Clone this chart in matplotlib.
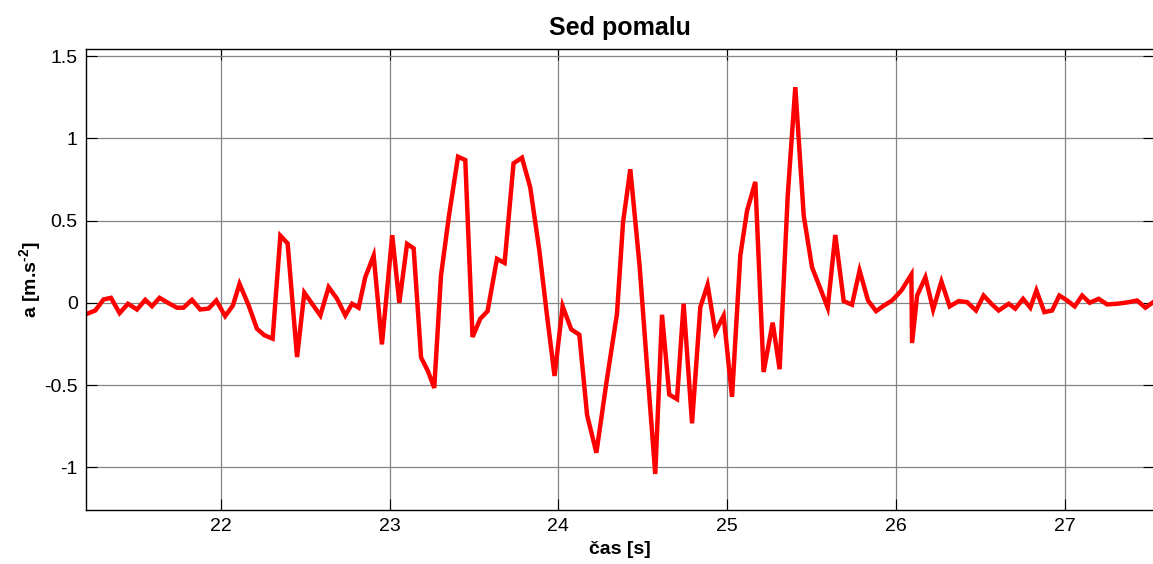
import matplotlib.pyplot as plt

plt.rcParams['font.family'] = ['Liberation Sans', 'DejaVu Sans']
plt.rcParams['mathtext.fontset'] = 'custom'
plt.rcParams['mathtext.rm'] = 'Liberation Sans:bold'
plt.rcParams['mathtext.bf'] = 'Liberation Sans:bold'
plt.rcParams['mathtext.default'] = 'bf'

# time [s] and acceleration [m.s^-2]
cas = [21.206, 21.255, 21.304, 21.348, 21.399, 21.449, 21.502, 21.551, 21.591, 21.636,
       21.689, 21.739, 21.778, 21.828, 21.877, 21.927, 21.972, 22.025, 22.071, 22.110,
       22.164, 22.213, 22.258, 22.306, 22.352, 22.395, 22.451, 22.494, 22.541, 22.589,
       22.638, 22.688, 22.737, 22.777, 22.816, 22.855, 22.905, 22.954, 23.015, 23.057,
       23.103, 23.142, 23.186, 23.227, 23.264, 23.304, 23.353, 23.405, 23.448, 23.491,
       23.537, 23.580, 23.636, 23.681, 23.734, 23.784, 23.833, 23.887, 23.931, 23.977,
       24.025, 24.076, 24.124, 24.170, 24.225, 24.284, 24.347, 24.383, 24.426, 24.481,
       24.527, 24.574, 24.614, 24.657, 24.703, 24.742, 24.792, 24.841, 24.884, 24.930,
       24.979, 25.029, 25.078, 25.118, 25.167, 25.216, 25.270, 25.311, 25.359, 25.404,
       25.454, 25.503, 25.550, 25.596, 25.641, 25.691, 25.740, 25.785, 25.835, 25.883,
       25.926, 25.978, 26.033, 26.092, 26.096, 26.126, 26.175, 26.221, 26.270, 26.319,
       26.372, 26.422, 26.475, 26.520, 26.566, 26.609, 26.669, 26.708, 26.754, 26.797,
       26.833, 26.880, 26.926, 26.969, 27.015, 27.060, 27.104, 27.149, 27.202, 27.252,
       27.311, 27.371, 27.430, 27.479, 27.526]

zrychleni = [-0.067, -0.047, 0.020, 0.030, -0.063, -0.006, -0.041, 0.018, -0.021, 0.030,
             -0.002, -0.030, -0.030, 0.018, -0.041, -0.035, 0.014, -0.081, -0.016, 0.115,
             -0.016, -0.158, -0.198, -0.218, 0.408, 0.361, -0.330, 0.061, -0.007, -0.077,
             0.095, 0.024, -0.077, -0.006, -0.030, 0.155, 0.287, -0.253, 0.411, 0.000,
             0.358, 0.331, -0.333, -0.416, -0.518, 0.165, 0.541, 0.888, 0.868, -0.208,
             -0.097, -0.051, 0.267, 0.242, 0.848, 0.882, 0.701, 0.317, -0.065, -0.445,
             -0.021, -0.162, -0.194, -0.683, -0.912, -0.489, -0.067, 0.488, 0.812, 0.226,
             -0.410, -1.041, -0.073, -0.558, -0.586, -0.006, -0.733, -0.027, 0.109, -0.178,
             -0.079, -0.572, 0.287, 0.559, 0.735, -0.421, -0.121, -0.404, 0.650, 1.311,
             0.529, 0.216, 0.093, -0.030, 0.412, 0.010, -0.012, 0.196, 0.014, -0.051,
             -0.019, 0.014, 0.075, 0.172, -0.245, 0.044, 0.155, -0.041, 0.129, -0.022,
             0.010, 0.004, -0.047, 0.044, -0.006, -0.047, -0.006, -0.036, 0.024, -0.030,
             0.075, -0.057, -0.047, 0.044, 0.014, -0.022, 0.044, 0.000, 0.024, -0.010,
             -0.006, 0.002, 0.014, -0.030, 0.004]

x_ticks = [22, 23, 24, 25, 26, 27]
y_ticks = [-1, -0.5, 0, 0.5, 1, 1.5]
y_labels = ['-1', '-0.5', '0', '0.5', '1', '1.5']

fig = plt.figure(figsize=(11.53, 5.64), dpi=100)
ax = fig.add_axes([86 / 1153, 1 - 510 / 564, 1068 / 1153, 461 / 564])

ax.plot(cas, zrychleni, color='#ff0000', lw=3.2, solid_joinstyle='miter')

ax.set_xlim(21.2, 27.53)
ax.set_ylim(-1.26, 1.543)
ax.set_xticks(x_ticks)
ax.set_xticklabels([str(t) for t in x_ticks])
ax.set_yticks(y_ticks)
ax.set_yticklabels(y_labels)

ax.grid(True, color='#858585', lw=0.9, linestyle='-')
ax.set_axisbelow(True)
ax.tick_params(direction='in', length=8, width=0.8, labelsize=14, pad=6,
               top=True, right=True, colors='black')
for s in ax.spines.values():
    s.set_linewidth(1.0)
    s.set_color('black')

ax.set_title('Sed pomalu', fontsize=18, fontweight='bold', pad=10)
ax.set_xlabel('čas [s]', fontsize=14, fontweight='bold', labelpad=4)
ax.set_ylabel('a [m.s$^{\\text{-2}}$]', fontsize=14, fontweight='bold', labelpad=1)

fig.savefig('out.png', dpi=100)
